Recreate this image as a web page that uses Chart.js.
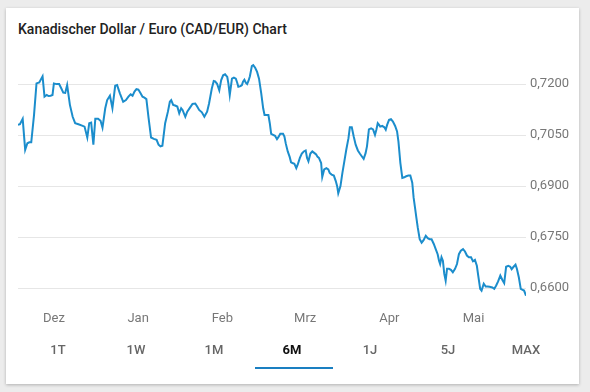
<!DOCTYPE html>
<html>
<head>
<meta charset="utf-8">
<script src="https://cdn.jsdelivr.net/npm/chart.js@4.4.0/dist/chart.umd.min.js"></script>
<style>
  html, body { margin: 0; padding: 0; }
  body { width: 590px; height: 392px; background: #ececec; position: relative; overflow: hidden; font-family: Roboto, "Noto Sans", sans-serif; }
  .card { position: absolute; left: 6px; top: 8px; width: 573px; height: 376px; background: #fff; box-shadow: 0 1px 3px rgba(0,0,0,0.25); }
  .title { position: absolute; left: 18px; top: 21px; font-size: 14px; color: #222; font-weight: 500; }
  #wrap { position: absolute; left: 0; top: 42px; width: 590px; height: 309px; }
  .tabs { position: absolute; left: 19px; top: 341px; display: flex; }
  .tabs div { width: 78px; text-align: center; font-size: 13px; font-weight: 500; color: #666; line-height: 18px; }
  .tabs div.on { color: #111; font-weight: 700; }
  .bar { position: absolute; left: 255px; top: 367px; width: 78px; height: 2px; background: #1a7fc1; }
</style>
</head>
<body>
<div class="card"></div>
<div class="title">Kanadischer Dollar / Euro (CAD/EUR) Chart</div>
<div id="wrap"><canvas id="c" width="590" height="309"></canvas></div>
<div class="tabs">
  <div>1T</div><div>1W</div><div>1M</div><div class="on">6M</div><div>1J</div><div>5J</div><div>MAX</div>
</div>
<div class="bar"></div>
<script>
// days since start of the 6M window, and CAD/EUR rate on that day
const days = [
  0, 0.7, 1.7, 2.6, 3.4, 4.1, 4.8, 5.8, 6.7, 7.7, 8.9, 9.6, 10.4, 11.1, 11.8, 12.5, 13.0, 14.0, 14.9, 15.7,
  16.4, 17.1, 17.8, 18.8, 19.8, 20.7, 21.9, 23.2, 24.1, 25.1, 25.8, 26.5, 27.3, 28.0, 29.0, 29.9, 30.6, 31.6, 32.3, 33.3,
  34.2, 35.2, 35.9, 36.9, 38.1, 39.1, 40.0, 40.8, 41.5, 42.2, 42.9, 43.6, 44.4, 45.1, 45.8, 46.5, 47.3, 48.2, 49.2, 50.2,
  50.9, 51.6, 52.3, 53.3, 54.3, 55.0, 55.5, 56.2, 56.9, 57.7, 58.4, 59.1, 59.6, 60.6, 61.3, 62.3, 63.2, 64.2, 64.9, 65.6,
  66.6, 67.5, 68.5, 69.2, 70.2, 70.9, 71.4, 72.1, 72.9, 73.6, 74.3, 75.0, 75.8, 76.2, 76.7, 77.5, 78.2, 78.9, 79.4, 79.8,
  80.6, 81.1, 81.5, 82.0, 82.5, 83.0, 83.5, 84.0, 84.7, 85.2, 85.9, 86.6, 87.3, 88.1, 88.8, 89.3, 90.0, 90.7, 91.2, 91.7,
  92.4, 93.1, 93.8, 94.3, 95.0, 96.0, 96.5, 97.0, 97.7, 98.4, 98.9, 99.4, 100.1, 100.8, 101.3, 102.1, 102.8, 103.5, 104.2, 104.7,
  105.2, 105.9, 106.6, 107.4, 108.0, 108.5, 109.0, 109.8, 110.2, 110.9, 111.7, 112.4, 112.9, 113.6, 114.4, 115.1, 115.6, 116.0, 116.8, 117.5,
  118.2, 118.9, 119.7, 120.2, 120.9, 121.6, 122.3, 123.1, 123.8, 124.5, 125.2, 125.9, 126.4, 127.1, 127.9, 128.6, 129.3, 129.8, 130.3, 130.8,
  131.2, 131.9, 132.7, 133.2, 133.7, 134.4, 135.1, 135.8, 136.6, 137.3, 137.8, 138.5, 139.2, 139.9, 140.6, 141.4, 142.1, 142.8, 143.3, 143.8,
  144.3, 144.8, 145.5, 146.2, 146.9, 147.7, 148.4, 149.1, 149.8, 150.6, 151.3, 152.0, 152.5, 152.9, 153.4, 153.9, 154.4, 154.9, 155.4, 156.1,
  156.8, 157.5, 158.3, 159.0, 159.7, 160.4, 161.2, 161.9, 162.6, 163.3, 164.1, 164.8, 165.5, 166.2, 166.7, 167.4, 167.9, 168.7, 169.4, 170.1,
  170.8, 171.8, 172.5, 173.2, 173.9, 174.7, 175.4, 176.1, 176.8, 177.6, 178.3, 178.8, 179.5, 180.2, 180.7, 181.4, 182.1, 182.6, 183.3, 184.0
];
const rates = [
  0.7080, 0.7082, 0.7098, 0.7007, 0.7026, 0.7029, 0.7029, 0.7109, 0.7202, 0.7205, 0.7223, 0.7163, 0.7168, 0.7165, 0.7166, 0.7168, 0.7202, 0.7200, 0.7200, 0.7187,
  0.7175, 0.7174, 0.7197, 0.7139, 0.7104, 0.7085, 0.7082, 0.7078, 0.7075, 0.7043, 0.7085, 0.7087, 0.7022, 0.7098, 0.7098, 0.7092, 0.7072, 0.7129, 0.7153, 0.7166,
  0.7129, 0.7195, 0.7197, 0.7173, 0.7148, 0.7153, 0.7163, 0.7170, 0.7166, 0.7178, 0.7185, 0.7184, 0.7173, 0.7163, 0.7160, 0.7156, 0.7100, 0.7043, 0.7039, 0.7036,
  0.7022, 0.7017, 0.7019, 0.7085, 0.7119, 0.7148, 0.7153, 0.7139, 0.7137, 0.7134, 0.7114, 0.7129, 0.7124, 0.7104, 0.7119, 0.7131, 0.7142, 0.7143, 0.7134, 0.7124,
  0.7117, 0.7104, 0.7119, 0.7143, 0.7187, 0.7209, 0.7208, 0.7201, 0.7182, 0.7212, 0.7226, 0.7229, 0.7221, 0.7202, 0.7168, 0.7216, 0.7219, 0.7216, 0.7204, 0.7192,
  0.7194, 0.7197, 0.7207, 0.7213, 0.7204, 0.7200, 0.7210, 0.7223, 0.7253, 0.7256, 0.7248, 0.7236, 0.7216, 0.7173, 0.7129, 0.7109, 0.7109, 0.7109, 0.7085, 0.7054,
  0.7051, 0.7048, 0.7038, 0.7044, 0.7054, 0.7054, 0.7046, 0.7025, 0.7002, 0.6986, 0.6970, 0.6968, 0.6966, 0.6953, 0.6963, 0.6983, 0.6996, 0.7002, 0.7005, 0.6983,
  0.6973, 0.6996, 0.7002, 0.6997, 0.6993, 0.6986, 0.6983, 0.6968, 0.6927, 0.6949, 0.6953, 0.6949, 0.6939, 0.6934, 0.6931, 0.6915, 0.6900, 0.6879, 0.6900, 0.6939,
  0.6973, 0.7007, 0.7041, 0.7073, 0.7073, 0.7046, 0.7022, 0.7005, 0.6996, 0.6988, 0.6980, 0.6997, 0.7017, 0.7067, 0.7070, 0.7067, 0.7051, 0.7066, 0.7085, 0.7080,
  0.7075, 0.7077, 0.7073, 0.7066, 0.7080, 0.7095, 0.7097, 0.7090, 0.7077, 0.7061, 0.7031, 0.6968, 0.6924, 0.6926, 0.6929, 0.6931, 0.6931, 0.6910, 0.6866, 0.6837,
  0.6807, 0.6778, 0.6744, 0.6734, 0.6741, 0.6754, 0.6747, 0.6744, 0.6744, 0.6730, 0.6715, 0.6700, 0.6681, 0.6671, 0.6691, 0.6681, 0.6642, 0.6622, 0.6657, 0.6657,
  0.6654, 0.6647, 0.6657, 0.6671, 0.6700, 0.6710, 0.6715, 0.6708, 0.6696, 0.6691, 0.6691, 0.6679, 0.6683, 0.6666, 0.6637, 0.6598, 0.6593, 0.6613, 0.6605, 0.6605,
  0.6604, 0.6602, 0.6598, 0.6608, 0.6620, 0.6637, 0.6625, 0.6615, 0.6663, 0.6666, 0.6663, 0.6656, 0.6663, 0.6669, 0.6657, 0.6632, 0.6598, 0.6596, 0.6593, 0.6578
];
const monthLabels = ['Dez', 'Jan', 'Feb', 'Mrz', 'Apr', 'Mai'];
const monthDays = [13, 43.5, 74, 104, 134.5, 165];
const yTicks = [0.66, 0.675, 0.69, 0.705, 0.72];

const ctx = document.getElementById('c').getContext('2d');
new Chart(ctx, {
  type: 'line',
  data: {
    datasets: [{
      data: days.map((d, i) => ({ x: d, y: rates[i] })),
      borderColor: '#1b8dcc',
      borderWidth: 2,
      pointRadius: 0,
      tension: 0,
      fill: false
    }]
  },
  options: {
    responsive: false,
    animation: false,
    devicePixelRatio: 1,
    layout: { padding: { left: 18, right: 0, top: 15, bottom: 13 } },
    plugins: { legend: { display: false }, tooltip: { enabled: false } },
    scales: {
      x: {
        type: 'linear',
        min: 0,
        max: 184,
        grid: { display: false, drawTicks: false },
        border: { display: false },
        afterBuildTicks: (scale) => { scale.ticks = monthDays.map(v => ({ value: v })); },
        ticks: {
          autoSkip: false,
          maxRotation: 0,
          padding: 11,
          color: '#777',
          font: { family: 'Roboto', size: 13 },
          callback: (v, i) => monthLabels[i]
        }
      },
      y: {
        position: 'right',
        min: 0.65641,
        max: 0.72797,
        grid: { color: '#e6e6e6', drawTicks: false },
        border: { display: false },
        afterBuildTicks: (scale) => { scale.ticks = yTicks.map(v => ({ value: v })); },
        afterFit: (scale) => { scale.width = 64; },
        ticks: {
          padding: 4,
          color: '#777',
          font: { family: 'Roboto', size: 13 },
          callback: (v) => v.toFixed(4).replace('.', ',')
        }
      }
    }
  }
});
</script>
</body>
</html>
